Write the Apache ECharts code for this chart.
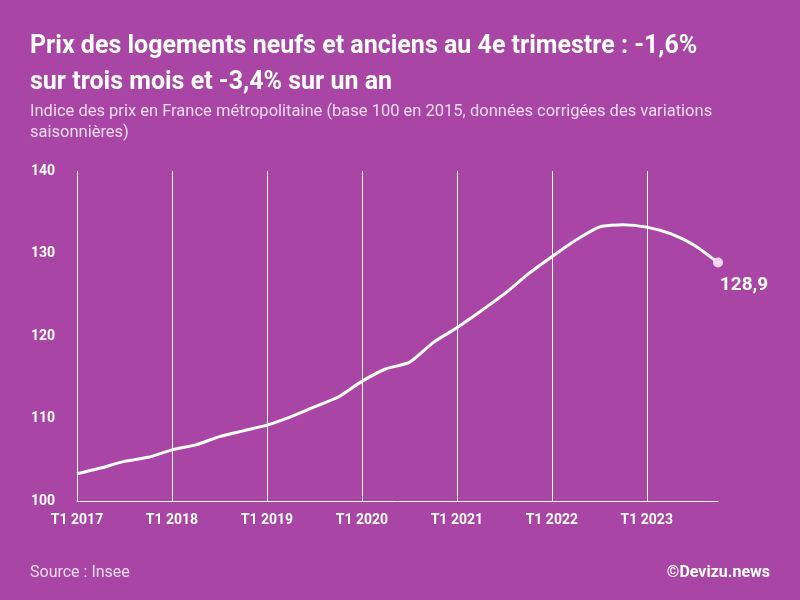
<!DOCTYPE html>
<html><head><meta charset="utf-8">
<script src="https://cdn.jsdelivr.net/npm/echarts@6/dist/echarts.min.js"></script>
<style>html,body{margin:0;padding:0;background:#a945a5}#c{width:800px;height:600px}</style>
</head><body><div id="c"></div>
<script>
const years = [2017,2018,2019,2020,2021,2022,2023];
const categories = [];
years.forEach(y => { for (let q = 1; q <= 4; q++) categories.push('T' + q + ' ' + y); });
const values = [103.3,104.0,104.8,105.3,106.2,106.8,107.8,108.5,109.2,110.2,111.4,112.6,
  114.5,116.0,116.8,119.2,121.0,123.0,125.1,127.5,129.6,131.6,133.2,133.5,133.2,132.4,131.0,128.9];
const yTicks = [100,110,120,130,140];
const lastLabel = '128,9';

const chart = echarts.init(document.getElementById('c'));
const F = 'Roboto';
chart.setOption({
  backgroundColor: '#a945a5',
  textStyle: { fontFamily: F },
  title: [
    { text: 'Prix des logements neufs et anciens au 4e trimestre : -1,6%\nsur trois mois et -3,4% sur un an',
      left: 25, top: 24, textStyle: { color: '#fff', fontSize: 25, fontWeight: 'bold', lineHeight: 36, fontFamily: F } },
    { text: 'Indice des prix en France métropolitaine (base 100 en 2015, données corrigées des variations\nsaisonnières)',
      left: 25, top: 96, textStyle: { color: '#f0dcef', fontSize: 16.5, fontWeight: 'normal', lineHeight: 21, fontFamily: F } },
    { text: 'Source : Insee', left: 25, top: 560, textStyle: { color: '#f0dcef', fontSize: 16, fontWeight: 'normal', fontFamily: F } },
    { text: '©Devizu.news', right: 25, top: 560, textStyle: { color: '#fff', fontSize: 16, fontWeight: 'bold', fontFamily: F } }
  ],
  grid: { left: 77, right: 82, top: 171, bottom: 99 },
  xAxis: {
    type: 'category', data: categories, boundaryGap: false,
    axisLine: { lineStyle: { color: '#fff', width: 1 } },
    axisTick: { show: false },
    axisLabel: { interval: 3, color: '#fff', fontWeight: 'bold', fontSize: 14, margin: 12 },
    splitLine: { show: true, interval: 3, lineStyle: { color: '#fff', width: 1 } }
  },
  yAxis: {
    type: 'value', min: yTicks[0], max: yTicks[yTicks.length-1], interval: 10,
    axisLine: { show: false }, axisTick: { show: false },
    axisLabel: { color: '#fff', fontWeight: 'bold', fontSize: 14, margin: 22 },
    splitLine: { show: false }
  },
  series: [{
    type: 'line', data: values, smooth: 0.2,
    lineStyle: { color: '#fff', width: 3 },
    symbol: 'none',
    markPoint: {
      symbol: 'circle', symbolSize: 10,
      itemStyle: { color: '#f3d3f0' },
      data: [{ coord: [categories.length-1, values[values.length-1]] }],
      label: { show: true, formatter: lastLabel, position: 'bottom', distance: 8, offset: [26, 0],
        color: '#fff', fontWeight: 'bold', fontSize: 19 }
    }
  }]
});
</script></body></html>
